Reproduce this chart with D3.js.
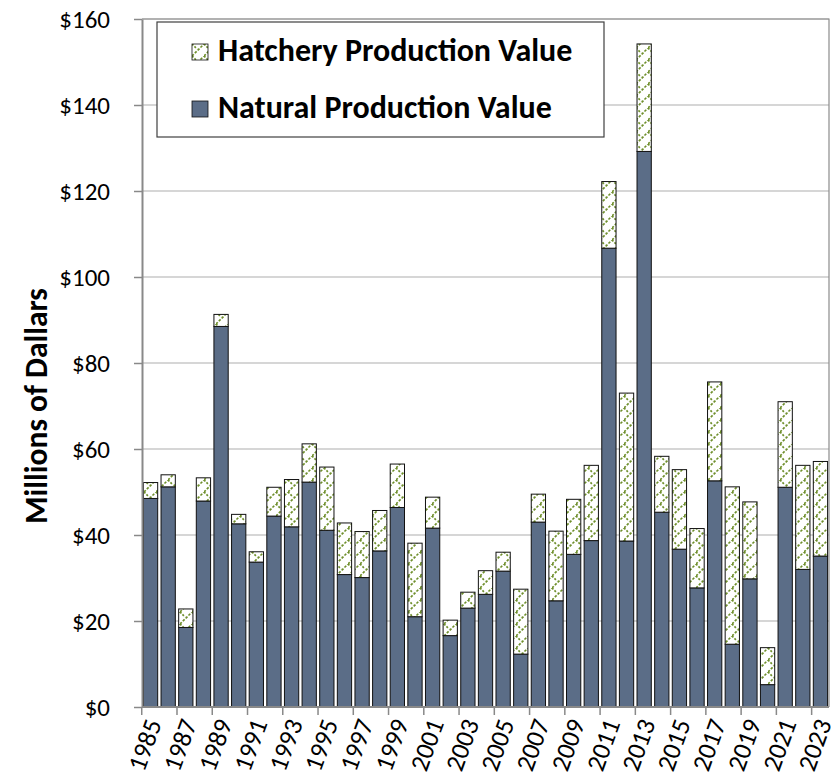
<!DOCTYPE html>
<html>
<head>
<meta charset="utf-8">
<script src="https://cdn.jsdelivr.net/npm/d3@7"></script>
<style>
  body { margin: 0; background: #fff; }
  svg { display: block; }
  text { font-family: Calibri, Carlito, Lato, sans-serif; }
</style>
</head>
<body>
<div id="chart"></div>
<script>
// data (millions of dollars)
const years = [1985, 1986, 1987, 1988, 1989, 1990, 1991, 1992, 1993, 1994,
               1995, 1996, 1997, 1998, 1999, 2000, 2001, 2002, 2003, 2004,
               2005, 2006, 2007, 2008, 2009, 2010, 2011, 2012, 2013, 2014,
               2015, 2016, 2017, 2018, 2019, 2020, 2021, 2022, 2023];
const natural = [48.5, 51.2, 18.5, 47.9, 88.5, 42.6, 33.7, 44.4, 41.9, 52.3,
                 41.1, 30.8, 30.1, 36.3, 46.4, 21.0, 41.6, 16.6, 23.0, 26.2,
                 31.6, 12.3, 43.0, 24.7, 35.5, 38.7, 106.7, 38.6, 129.2, 45.3,
                 36.7, 27.7, 52.6, 14.6, 29.8, 5.2, 51.1, 32.0, 35.1];
const hatchery = [3.7, 2.8, 4.3, 5.4, 2.8, 2.2, 2.4, 6.7, 11.0, 8.9,
                  14.7, 12.0, 10.7, 9.4, 10.1, 17.1, 7.2, 3.6, 3.7, 5.5,
                  4.4, 15.1, 6.5, 16.2, 12.8, 17.5, 15.5, 34.4, 25.0, 13.0,
                  18.5, 13.8, 23.0, 36.6, 17.9, 8.6, 19.9, 24.2, 22.0];
const yTicks = [0, 20, 40, 60, 80, 100, 120, 140, 160];
const labelYears = years.filter(d => d % 2 === 1);
const seriesNames = ["Hatchery Production Value", "Natural Production Value"];

const W = 840, H = 782;
const margin = {top: 19, right: 11, bottom: 75, left: 142};
const green = "#6f8f2c";

const rows = years.map((yr, i) => ({year: yr, natural: natural[i], hatchery: hatchery[i]}));
const stacked = d3.stack().keys(["natural", "hatchery"])(rows);

const x = d3.scaleBand()
    .domain(years)
    .range([margin.left, W - margin.right])
    .paddingInner(0.19)
    .paddingOuter(0.08);

const y = d3.scaleLinear()
    .domain([0, 160])
    .range([H - margin.bottom, margin.top]);

const svg = d3.select("#chart").append("svg")
    .attr("width", W)
    .attr("height", H);

// hatch fill for the hatchery part (dashed zig-zag)
const pat = svg.append("defs").append("pattern")
    .attr("id", "hatch")
    .attr("patternUnits", "userSpaceOnUse")
    .attr("width", 12)
    .attr("height", 12);
pat.append("rect").attr("width", 12).attr("height", 12).attr("fill", "#fff");
pat.append("path")
    .attr("d", "M0,12 L12,0")
    .attr("stroke", green)
    .attr("stroke-width", 1.7)
    .attr("stroke-dasharray", "2.5,1.5");
pat.append("path")
    .attr("d", "M0,0 L5,5")
    .attr("stroke", green)
    .attr("stroke-width", 1.7)
    .attr("stroke-dasharray", "2,1.5");

// gridlines
svg.append("g")
    .selectAll("line")
    .data(yTicks.filter(d => d > 0))
    .enter().append("line")
    .attr("x1", margin.left)
    .attr("x2", W - margin.right)
    .attr("y1", d => y(d))
    .attr("y2", d => y(d))
    .attr("stroke", "#c9c9c9")
    .attr("stroke-width", 1.6);

// plot frame (top + right)
svg.append("path")
    .attr("d", "M" + margin.left + "," + y(160) + "H" + (W - margin.right) + "V" + y(0))
    .attr("fill", "none")
    .attr("stroke", "#8c8c8c")
    .attr("stroke-width", 1.2);

// bars
const fills = {natural: "#5b6d87", hatchery: "url(#hatch)"};
svg.append("g")
    .selectAll("g")
    .data(stacked)
    .enter().append("g")
    .attr("fill", d => fills[d.key])
    .selectAll("rect")
    .data(d => d)
    .enter().append("rect")
    .attr("x", d => x(d.data.year))
    .attr("width", x.bandwidth())
    .attr("y", d => y(d[1]))
    .attr("height", d => y(d[0]) - y(d[1]))
    .attr("stroke", "#111")
    .attr("stroke-width", 1);

// y axis
const yAxis = svg.append("g")
    .attr("transform", "translate(" + margin.left + ",0)")
    .call(d3.axisLeft(y)
        .tickValues(yTicks)
        .tickFormat(d => "$" + d)
        .tickSize(8)
        .tickSizeOuter(0)
        .tickPadding(24));
yAxis.select(".domain").attr("stroke", "#898989").attr("stroke-width", 2);
yAxis.selectAll(".tick line").attr("stroke", "#898989").attr("stroke-width", 1.5);
yAxis.selectAll(".tick text")
    .attr("fill", "#000")
    .attr("font-size", 25)
    .style("font-family", "Calibri, Carlito, Lato, sans-serif");

// x axis: baseline, ticks between categories every 2 years, slanted labels
const gap = x.step() * x.paddingInner() / 2;
const xAxis = svg.append("g");
xAxis.append("line")
    .attr("x1", margin.left)
    .attr("x2", W - margin.right)
    .attr("y1", y(0))
    .attr("y2", y(0))
    .attr("stroke", "#898989")
    .attr("stroke-width", 2);
xAxis.selectAll(".xtick")
    .data(labelYears)
    .enter().append("line")
    .attr("class", "xtick")
    .attr("x1", d => x(d) - gap)
    .attr("x2", d => x(d) - gap)
    .attr("y1", y(0))
    .attr("y2", y(0) + 8)
    .attr("stroke", "#898989")
    .attr("stroke-width", 1.5);
xAxis.selectAll(".xlabel")
    .data(labelYears)
    .enter().append("text")
    .attr("class", "xlabel")
    .attr("transform", d => "translate(" + (x(d) + x.bandwidth() / 2 + 3) + "," + (y(0) + 13) + ") rotate(-70)")
    .attr("text-anchor", "end")
    .attr("dy", "0.35em")
    .attr("font-size", 26)
    .text(d => d);

// y title
svg.append("text")
    .attr("transform", "translate(47,406) rotate(-90)")
    .attr("text-anchor", "middle")
    .attr("font-size", 31.5)
    .attr("font-weight", "bold")
    .text("Millions of Dallars");

// legend
const legend = svg.append("g");
legend.append("rect")
    .attr("x", 157)
    .attr("y", 22)
    .attr("width", 447)
    .attr("height", 115)
    .attr("fill", "#fff")
    .attr("stroke", "#404040")
    .attr("stroke-width", 1.2);
const items = legend.selectAll(".item")
    .data(seriesNames)
    .enter().append("g")
    .attr("class", "item")
    .attr("transform", (d, i) => "translate(192," + (44 + i * 57) + ")");
items.append("rect")
    .attr("width", 16)
    .attr("height", 16)
    .attr("fill", (d, i) => i === 0 ? "url(#hatch)" : "#5b6d87")
    .attr("stroke", "#111")
    .attr("stroke-width", 0.8);
items.append("text")
    .attr("x", 26)
    .attr("y", 17)
    .attr("font-size", 32)
    .attr("font-weight", "bold")
    .text(d => d);
</script>
</body>
</html>
